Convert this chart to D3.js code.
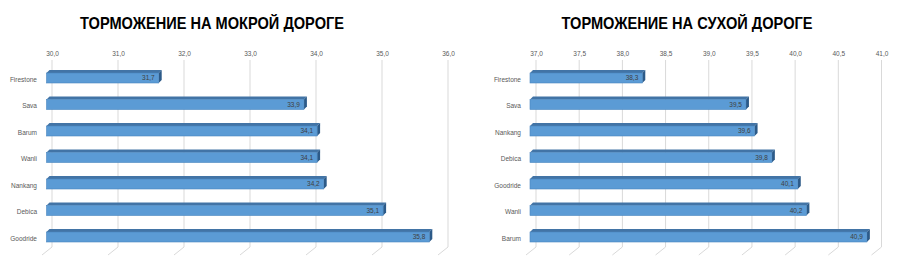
<!DOCTYPE html>
<html>
<head>
<meta charset="utf-8">
<script src="https://cdn.jsdelivr.net/npm/d3@7"></script>
<style>
    body { margin: 0; background: #fff; }
    svg { display: block; }
</style>
</head>
<body>
<div id="chart"></div>
<script>
// Wet braking
const wetTitle = 'ТОРМОЖЕНИЕ НА МОКРОЙ ДОРОГЕ';
const wetBrands = ['Firestone', 'Sava', 'Barum', 'Wanli', 'Nankang', 'Debica', 'Goodride'];
const wetValues = [31.7, 33.9, 34.1, 34.1, 34.2, 35.1, 35.8];
const wetTicks = [30, 31, 32, 33, 34, 35, 36];

// Dry braking
const dryTitle = 'ТОРМОЖЕНИЕ НА СУХОЙ ДОРОГЕ';
const dryBrands = ['Firestone', 'Sava', 'Nankang', 'Debica', 'Goodride', 'Wanli', 'Barum'];
const dryValues = [38.3, 39.5, 39.6, 39.8, 40.1, 40.2, 40.9];
const dryTicks = [37, 37.5, 38, 38.5, 39, 39.5, 40, 40.5, 41];

const W = 900, H = 265;
const fmt = v => d3.format('.1f')(v).replace('.', ',');

const svg = d3.select('#chart').append('svg')
    .attr('width', W)
    .attr('height', H);

function drawChart(opts) {
    const g = svg.append('g');

    const x = d3.scaleLinear()
        .domain([opts.ticks[0], opts.ticks[opts.ticks.length - 1]])
        .range(opts.xRange);

    const y = d3.scaleBand()
        .domain(opts.brands)
        .range([64.75, 64.75 + 26.5 * opts.brands.length])
        .paddingInner(0.623)
        .paddingOuter(0.3115);

    const gridTop = 60, gridBottom = 247;
    const dx = opts.dx;   // front face offset from back wall
    const depth = 3;      // 3d depth of bars

    // title (narrow bold, squeezed to the width of the original)
    g.append('text')
        .attr('x', opts.titleX)
        .attr('y', 29)
        .attr('text-anchor', 'middle')
        .attr('font-family', 'Liberation Sans Narrow, Liberation Sans, Arial, sans-serif')
        .attr('font-weight', 'bold')
        .attr('font-size', 17)
        .attr('textLength', opts.titleW)
        .attr('lengthAdjust', 'spacingAndGlyphs')
        .attr('fill', '#000')
        .text(opts.title);

    // back wall gridlines + floor edge
    const grid = g.append('g');
    grid.selectAll('path')
        .data(opts.ticks)
        .join('path')
        .attr('d', d => `M${x(d)},${gridTop}V${gridBottom}L${x(d) - 10},${gridBottom + 8}`)
        .attr('fill', 'none')
        .attr('stroke', '#d9d9d9')
        .attr('stroke-width', 1);

    // tick labels on top
    const xAxis = d3.axisTop(x)
        .tickValues(opts.ticks)
        .tickSize(0)
        .tickPadding(0)
        .tickFormat(fmt);
    const axG = g.append('g')
        .attr('transform', 'translate(0,56)')
        .call(xAxis);
    axG.select('.domain').remove();
    axG.selectAll('text')
        .attr('font-family', 'Liberation Sans, Arial, sans-serif')
        .attr('font-size', 6.5)
        .attr('fill', '#595959');

    // category labels
    const yAxis = d3.axisLeft(y)
        .tickSize(0)
        .tickPadding(0);
    const ayG = g.append('g')
        .attr('transform', `translate(${opts.labelX},1.5)`)
        .call(yAxis);
    ayG.select('.domain').remove();
    ayG.selectAll('text')
        .attr('font-family', 'Liberation Sans, Arial, sans-serif')
        .attr('font-size', 6.5)
        .attr('fill', '#595959');

    const rows = opts.brands.map((b, i) => ({ brand: b, value: opts.values[i] }));
    const x0 = x(opts.ticks[0]) + dx;

    const bars = g.append('g').selectAll('g')
        .data(rows)
        .join('g');

    // top face
    bars.append('path')
        .attr('d', d => {
            const yt = y(d.brand), x1 = x(d.value) + dx;
            return `M${x0},${yt}L${x0 + depth},${yt - depth}L${x1 + depth},${yt - depth}L${x1},${yt}Z`;
        })
        .attr('fill', '#4274a6');

    // right side face
    bars.append('path')
        .attr('d', d => {
            const yt = y(d.brand), yb = yt + y.bandwidth(), x1 = x(d.value) + dx;
            return `M${x1},${yt}L${x1 + depth},${yt - depth}L${x1 + depth},${yb - depth}L${x1},${yb}Z`;
        })
        .attr('fill', '#2c5a88');

    // front face
    bars.append('rect')
        .attr('x', x0)
        .attr('y', d => y(d.brand))
        .attr('width', d => x(d.value) + dx - x0)
        .attr('height', y.bandwidth())
        .attr('fill', '#5b9bd5')
        .attr('stroke', '#4a86bf')
        .attr('stroke-width', 0.6);

    // value labels
    bars.append('text')
        .attr('x', d => x(d.value) + dx - 4)
        .attr('y', d => y(d.brand) + y.bandwidth() / 2 + 2.2)
        .attr('text-anchor', 'end')
        .attr('font-family', 'Liberation Sans, Arial, sans-serif')
        .attr('font-size', 6.5)
        .attr('fill', '#404040')
        .text(d => fmt(d.value));
}

drawChart({
    title: wetTitle, brands: wetBrands, values: wetValues, ticks: wetTicks,
    xRange: [52, 448], dx: -5.5, labelX: 37, titleX: 212, titleW: 264
});

drawChart({
    title: dryTitle, brands: dryBrands, values: dryValues, ticks: dryTicks,
    xRange: [536, 881.5], dx: -6, labelX: 521, titleX: 687, titleW: 251
});
</script>
</body>
</html>
